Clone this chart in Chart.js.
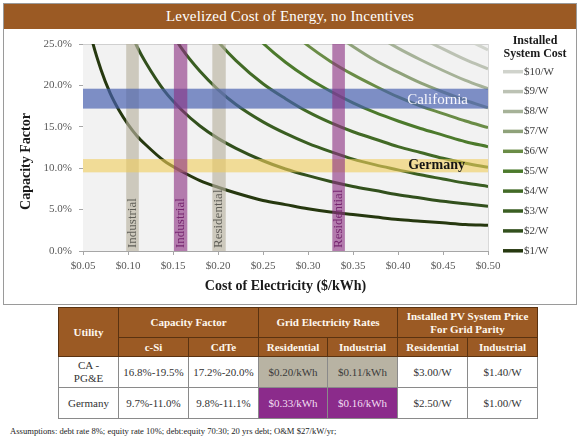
<!DOCTYPE html>
<html>
<head>
<meta charset="utf-8">
<script src="https://cdn.jsdelivr.net/npm/chart.js@4.4.1/dist/chart.umd.min.js"></script>
<style>
  html, body { margin:0; padding:0; background:#ffffff; }
  body { width:580px; height:439px; position:relative; overflow:hidden; font-family:"Liberation Serif", serif; }
  #frame { position:absolute; left:3px; top:3px; width:574px; height:302px; box-sizing:border-box; border:1px solid #9a9a9a; }
  #titlebar { position:absolute; left:4px; top:4px; width:572px; height:25px; background:#9b5a24; color:#fff; font-size:15px; line-height:25px; text-align:center; letter-spacing:0.2px; }
  #chartbox { position:absolute; left:4px; top:30px; width:572px; height:272px; }
  #tbl { position:absolute; left:58px; top:307px; width:479px; border-collapse:collapse; table-layout:fixed; border:1.5px solid #555; }
  #tbl th, #tbl td { padding:0; text-align:center; vertical-align:middle; font-size:11px; line-height:13px; }
  #tbl th { background:#9b5a24; color:#fff8ee; font-weight:bold; border:1px solid #5a3210; }
  #tbl td { background:#fff; color:#333; border:1px solid #8a8a8a; }
  #tbl td.ca { background:#b8b3a3; color:#3a3a3a; }
  #tbl td.de { background:#8b2b8b; color:#f3dff3; }
  #note { position:absolute; left:10px; top:426px; font-size:8.6px; color:#222; white-space:nowrap; }
</style>
</head>
<body>
<div id="frame"></div>
<div id="titlebar"></div>
<div id="chartbox"><canvas id="c"></canvas></div>
<table id="tbl"></table>
<div id="note"></div>
<script>
// ---------- chart data ----------
const chartTitle = 'Levelized Cost of Energy, no Incentives';
const xTitle = 'Cost of Electricity ($/kWh)';
const yTitle = 'Capacity Factor';
const legendTitle = ['Installed', 'System Cost'];

const costs = [0.05,0.06,0.07,0.08,0.09,0.10,0.11,0.12,0.14,0.16,0.18,0.20,0.22,0.25,0.275,0.30,0.325,0.35,0.375,0.40,0.425,0.45,0.475,0.50];

const seriesLabels = ['$1/W','$2/W','$3/W','$4/W','$5/W','$6/W','$7/W','$8/W','$9/W','$10/W'];
const seriesColors = ['#26380f','#32501d','#3a5e22','#426a26','#4c7a2c','#6a8c46','#8fa27a','#a6b298','#bcc2b4','#d0d3cc'];

const cf1  = [30.6,25.5,21.9,19.1,17.0,15.3,13.9,12.8,10.9,9.6,8.5,7.7,7.0,6.1,5.6,5.1,4.7,4.4,4.1,3.8,3.6,3.4,3.2,3.1];
const cf2  = [null,null,null,null,null,27.2,24.7,22.7,19.4,17.0,15.1,13.6,12.4,10.9,9.9,9.1,8.4,7.8,7.3,6.8,6.4,6.0,5.7,5.4];
const cf3  = [null,null,null,null,null,null,null,null,27.9,24.4,21.7,19.5,17.7,15.6,14.2,13.0,12.0,11.1,10.4,9.8,9.2,8.7,8.2,7.8];
const cf4  = [null,null,null,null,null,null,null,null,null,null,28.1,25.3,23.0,20.2,18.4,16.8,15.5,14.4,13.5,12.6,11.9,11.2,10.6,10.1];
const cf5  = [null,null,null,null,null,null,null,null,null,null,null,null,28.5,25.1,22.8,20.9,19.3,17.9,16.7,15.7,14.8,14.0,13.2,12.6];
const cf6  = [null,null,null,null,null,null,null,null,null,null,null,null,null,null,27.1,24.8,22.9,21.3,19.9,18.6,17.5,16.6,15.7,14.9];
const cf7  = [null,null,null,null,null,null,null,null,null,null,null,null,null,null,null,null,26.6,24.7,23.0,21.6,20.3,19.2,18.2,17.3];
const cf8  = [null,null,null,null,null,null,null,null,null,null,null,null,null,null,null,null,null,null,26.1,24.5,23.1,21.8,20.6,19.6];
const cf9  = [null,null,null,null,null,null,null,null,null,null,null,null,null,null,null,null,null,null,null,null,25.8,24.4,23.1,22.0];
const cf10 = [null,null,null,null,null,null,null,null,null,null,null,null,null,null,null,null,null,null,null,null,null,null,25.6,24.3];
const cfSeries = [cf1,cf2,cf3,cf4,cf5,cf6,cf7,cf8,cf9,cf10];

const xTickValues = [0.05,0.10,0.15,0.20,0.25,0.30,0.35,0.40,0.45,0.50];
const xTickLabels = ['$0.05','$0.10','$0.15','$0.20','$0.25','$0.30','$0.35','$0.40','$0.45','$0.50'];
const yTickValues = [0,5,10,15,20,25];
const yTickLabels = ['0.0%','5.0%','10.0%','15.0%','20.0%','25.0%'];

// capacity-factor bands (horizontal)
const regionNames = ['California','Germany'];
const regionCFLow = [17.2, 9.5];
const regionCFHigh = [19.6, 11.1];
// electricity-rate bands (vertical)
const rateLabels = ['Industrial','Industrial','Residential','Residential'];
const rateRegion = ['CA','DE','CA','DE'];
const rateLow = [0.098, 0.151, 0.1937, 0.327];
const rateHigh = [0.112, 0.1659, 0.2086, 0.341];

// ---------- table data ----------
const tableHead = 'Utility';
const tableGroups = [['Capacity Factor'], ['Grid Electricity Rates'], ['Installed PV System Price','For Grid Parity']];
const tableSubheads = ['c-Si','CdTe','Residential','Industrial','Residential','Industrial'];
const utilities = [['CA -','PG&E'], ['Germany']];
const cfSi = ['16.8%-19.5%','9.7%-11.0%'];
const cfCdTe = ['17.2%-20.0%','9.8%-11.1%'];
const rateRes = ['$0.20/kWh','$0.33/kWh'];
const rateInd = ['$0.11/kWh','$0.16/kWh'];
const priceRes = ['$3.00/W','$2.50/W'];
const priceInd = ['$1.40/W','$1.00/W'];
const noteText = 'Assumptions: debt rate 8%; equity rate 10%; debt:equity 70:30; 20 yrs debt; O&M $27/kW/yr;';

// ---------- page text ----------
document.getElementById('titlebar').textContent = chartTitle;
document.getElementById('note').textContent = noteText;

function cellWithLines(tag, lines, cls) {
  const el = document.createElement(tag);
  lines.forEach((l, i) => { if (i) el.appendChild(document.createElement('br')); el.appendChild(document.createTextNode(l)); });
  if (cls) el.className = cls;
  return el;
}
(function buildTable() {
  const t = document.getElementById('tbl');
  const cg = document.createElement('colgroup');
  [60,70,70,69,70,70,70].forEach(w => { const c = document.createElement('col'); c.style.width = w + 'px'; cg.appendChild(c); });
  t.appendChild(cg);
  const r1 = document.createElement('tr'); r1.style.height = '30px';
  const u = cellWithLines('th', [tableHead]); u.rowSpan = 2; r1.appendChild(u);
  tableGroups.forEach(g => { const th = cellWithLines('th', g); th.colSpan = 2; r1.appendChild(th); });
  t.appendChild(r1);
  const r2 = document.createElement('tr'); r2.style.height = '19px';
  tableSubheads.forEach(s => r2.appendChild(cellWithLines('th', [s])));
  t.appendChild(r2);
  utilities.forEach((name, i) => {
    const r = document.createElement('tr'); r.style.height = '31px';
    const cls = i === 0 ? 'ca' : 'de';
    r.appendChild(cellWithLines('td', name));
    r.appendChild(cellWithLines('td', [cfSi[i]]));
    r.appendChild(cellWithLines('td', [cfCdTe[i]]));
    r.appendChild(cellWithLines('td', [rateRes[i]], cls));
    r.appendChild(cellWithLines('td', [rateInd[i]], cls));
    r.appendChild(cellWithLines('td', [priceRes[i]]));
    r.appendChild(cellWithLines('td', [priceInd[i]]));
    t.appendChild(r);
  });
})();

// ---------- plugins ----------
const FONT = '"Liberation Serif", serif';

const bgPlugin = {
  id: 'plotBg',
  beforeDraw(chart) {
    const {ctx, chartArea: ca} = chart;
    ctx.save();
    ctx.fillStyle = '#f2f2f2';
    ctx.fillRect(ca.left, ca.top, ca.right - ca.left, ca.bottom - ca.top);
    ctx.restore();
  }
};

const bandsPlugin = {
  id: 'bands',
  afterDatasetsDraw(chart) {
    const {ctx, chartArea: ca, scales: {x, y}} = chart;
    ctx.save();
    ctx.beginPath(); ctx.rect(ca.left, ca.top, ca.right - ca.left, ca.bottom - ca.top); ctx.clip();
    const vRect = i => {
      const x0 = x.getPixelForValue(rateLow[i]), x1 = x.getPixelForValue(rateHigh[i]);
      ctx.fillRect(x0, ca.top, x1 - x0, ca.bottom - ca.top);
    };
    rateRegion.forEach((r, i) => { if (r === 'CA') { ctx.fillStyle = 'rgba(185,178,160,0.65)'; vRect(i); } });
    const hColors = ['rgba(70,95,175,0.68)', 'rgba(240,205,90,0.6)'];
    regionNames.forEach((n, i) => {
      const y0 = y.getPixelForValue(regionCFHigh[i]), y1 = y.getPixelForValue(regionCFLow[i]);
      ctx.fillStyle = hColors[i];
      ctx.fillRect(ca.left, y0, ca.right - ca.left, y1 - y0);
    });
    rateRegion.forEach((r, i) => { if (r === 'DE') { ctx.fillStyle = 'rgba(140,50,130,0.62)'; vRect(i); } });

    // region labels
    ctx.textAlign = 'right'; ctx.textBaseline = 'middle';
    regionNames.forEach((n, i) => {
      const yc = (y.getPixelForValue(regionCFHigh[i]) + y.getPixelForValue(regionCFLow[i])) / 2;
      if (i === 0) { ctx.font = '15px ' + FONT; ctx.fillStyle = '#f6f6fc'; ctx.fillText(n, ca.right - 20, yc + 1); }
      else { ctx.font = 'bold 14px ' + FONT; ctx.fillStyle = '#141414'; ctx.fillText(n, ca.right - 23, yc); }
    });
    // vertical labels
    ctx.font = '13px ' + FONT; ctx.textAlign = 'left'; ctx.textBaseline = 'middle';
    rateLabels.forEach((lab, i) => {
      const cx = (x.getPixelForValue(rateLow[i]) + x.getPixelForValue(rateHigh[i])) / 2;
      ctx.save();
      ctx.translate(cx, ca.bottom - 3);
      ctx.rotate(-Math.PI / 2);
      ctx.fillStyle = rateRegion[i] === 'CA' ? '#5f5e57' : '#76246f';
      ctx.fillText(lab, 0, 0);
      ctx.restore();
    });
    ctx.restore();
  }
};

const legendPlugin = {
  id: 'sideLegend',
  afterDraw(chart) {
    const {ctx, chartArea: ca} = chart;
    const ds = chart.data.datasets;
    ctx.save();
    ctx.textBaseline = 'middle';
    ctx.font = 'bold 12px ' + FONT; ctx.fillStyle = '#1a1a1a'; ctx.textAlign = 'center';
    ctx.fillText(legendTitle[0], ca.right + 47, 10.7);
    ctx.fillText(legendTitle[1], ca.right + 47, 24);
    ctx.font = '11px ' + FONT; ctx.textAlign = 'left';
    for (let i = ds.length - 1, row = 0; i >= 0; i--, row++) {
      const yy = 41.7 + row * 19.9;
      ctx.strokeStyle = ds[i].borderColor; ctx.lineWidth = 3.5; ctx.lineCap = 'butt';
      ctx.beginPath(); ctx.moveTo(ca.right + 15, yy); ctx.lineTo(ca.right + 35, yy); ctx.stroke();
      ctx.fillStyle = '#3f3f3f';
      ctx.fillText(ds[i].label, ca.right + 36, yy);
    }
    ctx.restore();
  }
};

// ---------- chart ----------
new Chart(document.getElementById('c'), {
  type: 'line',
  data: {
    datasets: seriesLabels.map((lab, i) => ({
      label: lab,
      data: costs.map((c, j) => ({x: c, y: cfSeries[i][j]})).filter(p => p.y !== null),
      borderColor: seriesColors[i],
      backgroundColor: seriesColors[i],
      borderWidth: 3,
      pointRadius: 0,
      cubicInterpolationMode: 'monotone',
      fill: false,
      clip: 0
    }))
  },
  options: {
    responsive: true,
    maintainAspectRatio: false,
    animation: false,
    layout: {padding: {left: 0, right: 88, top: 14, bottom: 0}},
    plugins: {legend: {display: false}, tooltip: {enabled: false}, title: {display: false}},
    scales: {
      x: {
        type: 'linear', min: 0.05, max: 0.5,
        afterFit: s => { s.height = 51; },
        afterBuildTicks: s => { s.ticks = xTickValues.map(v => ({value: v})); },
        ticks: {callback: (v, i) => xTickLabels[i], color: '#595959', font: {family: FONT, size: 11}, padding: 5, maxRotation: 0, autoSkip: false},
        grid: {color: c => (c.tick && c.tick.value === 0.5) ? '#d9d9d9' : 'rgba(0,0,0,0)', tickColor: '#a6a6a6', tickLength: 4},
        border: {display: true, color: '#a6a6a6', width: 1},
        title: {display: true, text: xTitle, color: '#1a1a1a', font: {family: FONT, size: 14, weight: 'bold'}, padding: {top: 0, bottom: 7}}
      },
      y: {
        min: 0, max: 25,
        afterFit: s => { s.width = 79; },
        afterBuildTicks: s => { s.ticks = yTickValues.map(v => ({value: v})); },
        ticks: {callback: (v, i) => yTickLabels[i], color: '#595959', font: {family: FONT, size: 11}, padding: 7},
        grid: {color: c => (c.tick && c.tick.value === 25) ? '#d0d0d0' : 'rgba(0,0,0,0)', tickColor: '#a6a6a6', tickLength: 4},
        border: {display: false},
        title: {display: true, text: yTitle + '        ', color: '#1a1a1a', font: {family: FONT, size: 14, weight: 'bold'}, padding: {top: 14, bottom: 0}}
      }
    }
  },
  plugins: [bgPlugin, bandsPlugin, legendPlugin]
});
</script>
</body>
</html>
